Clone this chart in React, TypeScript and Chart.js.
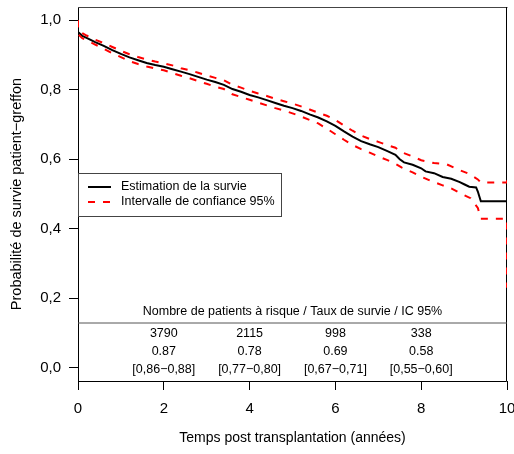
import React, { useEffect, useRef } from "react";
import { Chart, registerables } from "chart.js";

Chart.register(...registerables);

const FONT = '"Liberation Sans", Arial, Helvetica, sans-serif';

// Kaplan-Meier estimate (years, survival)
const survTimes = [0, 0, 0.1, 0.2, 0.4, 0.6, 0.8, 1.0, 1.2, 1.4, 1.6, 1.8, 2.0, 2.2, 2.4, 2.6, 2.8, 3.0, 3.2, 3.4, 3.6, 3.8, 4.0, 4.2, 4.4, 4.6, 4.8, 5.0, 5.2, 5.4, 5.6, 5.8, 6.0, 6.2, 6.4, 6.6, 6.8, 7.0, 7.2, 7.4, 7.5, 7.6, 7.8, 8.0, 8.1, 8.3, 8.5, 8.7, 8.9, 9.0, 9.12, 9.28, 9.32, 9.39, 10];
const survValues = [1.0, 0.966, 0.955, 0.949, 0.937, 0.926, 0.914, 0.903, 0.893, 0.885, 0.877, 0.871, 0.866, 0.859, 0.852, 0.845, 0.837, 0.829, 0.822, 0.814, 0.802, 0.794, 0.785, 0.778, 0.77, 0.762, 0.754, 0.747, 0.739, 0.729, 0.72, 0.709, 0.696, 0.68, 0.665, 0.652, 0.643, 0.635, 0.624, 0.613, 0.6, 0.591, 0.584, 0.574, 0.565, 0.56, 0.549, 0.544, 0.534, 0.528, 0.521, 0.519, 0.507, 0.479, 0.479];

// Upper 95% CI
const upperTimes = [0, 0, 0.1, 0.2, 0.4, 0.6, 0.8, 1.0, 1.2, 1.4, 1.6, 1.8, 2.0, 2.2, 2.4, 2.6, 2.8, 3.0, 3.2, 3.4, 3.6, 3.8, 4.0, 4.2, 4.4, 4.6, 4.8, 5.0, 5.2, 5.4, 5.6, 5.8, 6.0, 6.2, 6.4, 6.6, 6.8, 7.0, 7.2, 7.4, 7.55, 7.8, 8.0, 8.3, 8.6, 8.85, 9.12, 9.32, 9.39, 10, 10];
const upperValues = [1.0, 0.972, 0.963, 0.956, 0.944, 0.934, 0.923, 0.912, 0.902, 0.894, 0.887, 0.881, 0.876, 0.87, 0.862, 0.856, 0.849, 0.841, 0.834, 0.827, 0.814, 0.806, 0.797, 0.789, 0.782, 0.774, 0.767, 0.76, 0.752, 0.743, 0.734, 0.725, 0.713, 0.697, 0.682, 0.668, 0.658, 0.65, 0.641, 0.633, 0.62, 0.608, 0.597, 0.589, 0.585, 0.571, 0.558, 0.542, 0.533, 0.533, 0.561];

// Lower 95% CI
const lowerTimes = [0, 0, 0.1, 0.2, 0.4, 0.6, 0.8, 1.0, 1.2, 1.4, 1.6, 1.8, 2.0, 2.2, 2.4, 2.6, 2.8, 3.0, 3.2, 3.4, 3.6, 3.8, 4.0, 4.2, 4.4, 4.6, 4.8, 5.0, 5.2, 5.4, 5.6, 5.8, 6.0, 6.2, 6.4, 6.6, 6.8, 7.0, 7.2, 7.4, 7.55, 7.8, 8.0, 8.2, 8.5, 8.7, 8.9, 9.15, 9.32, 9.39, 10, 10];
const lowerValues = [1.0, 0.96, 0.948, 0.942, 0.93, 0.918, 0.905, 0.894, 0.882, 0.874, 0.867, 0.861, 0.856, 0.848, 0.84, 0.833, 0.825, 0.817, 0.809, 0.802, 0.787, 0.779, 0.771, 0.763, 0.755, 0.747, 0.74, 0.732, 0.723, 0.713, 0.703, 0.688, 0.672, 0.656, 0.641, 0.629, 0.619, 0.608, 0.598, 0.587, 0.576, 0.562, 0.55, 0.539, 0.525, 0.516, 0.503, 0.488, 0.46, 0.429, 0.429, 0.23];

// Axis ticks
const xTicks = [0, 2, 4, 6, 8, 10];
const yTicks = [0, 0.2, 0.4, 0.6, 0.8, 1.0];

// Risk table
const tableYears = [2, 4, 6, 8];
const atRisk = ["3790", "2115", "998", "338"];
const survRate = ["0.87", "0.78", "0.69", "0.58"];
const survCI = ["[0,86\u22120,88]", "[0,77\u22120,80]", "[0,67\u22120,71]", "[0,55\u22120,60]"];

const tableTitle = "Nombre de patients \u00e0 risque / Taux de survie / IC 95%";
const legendLabels = ["Estimation de la survie", "Intervalle de confiance 95%"];
const xTitle = "Temps post transplantation (ann\u00e9es)";
const yTitle = "Probabilit\u00e9 de survie patient\u2212greffon";

const toPoints = (xs: number[], ys: number[]) => xs.map((x, i) => ({ x, y: ys[i] }));

const framePlugin = {
  id: "frame",
  beforeDatasetsDraw(chart: any) {
    const { ctx, chartArea } = chart;
    const { left, right, top, bottom } = chartArea;
    ctx.save();
    ctx.lineWidth = 1;
    ctx.strokeStyle = "#000";
    ctx.beginPath();
    ctx.moveTo(left + 0.5, bottom + 0.5);
    ctx.lineTo(left + 0.5, top);
    ctx.stroke();
    ctx.strokeStyle = "#444";
    ctx.beginPath();
    ctx.moveTo(left, top + 0.5);
    ctx.lineTo(right + 0.5, top + 0.5);
    ctx.stroke();
    ctx.strokeStyle = "#000";
    ctx.beginPath();
    ctx.moveTo(right - 0.5, top);
    ctx.lineTo(right - 0.5, bottom + 0.5);
    ctx.lineTo(left, bottom + 0.5);
    ctx.stroke();
    ctx.restore();
  },
};

const overlayPlugin = {
  id: "overlay",
  afterDatasetsDraw(chart: any) {
    const { ctx, chartArea } = chart;
    const xs = chart.scales.x;
    const { left, right } = chartArea;
    ctx.save();

    // legend box
    const lx0 = left, ly0 = 173, lx1 = 281, ly1 = 216;
    ctx.fillStyle = "#fff";
    ctx.fillRect(lx0 + 1, ly0, lx1 - lx0 - 1, ly1 - ly0);
    ctx.strokeStyle = "#444";
    ctx.lineWidth = 1;
    ctx.strokeRect(lx0 + 0.5, ly0 + 0.5, lx1 - lx0, ly1 - ly0);
    ctx.lineWidth = 2;
    ctx.strokeStyle = "#000";
    ctx.setLineDash([]);
    ctx.beginPath();
    ctx.moveTo(88, 187);
    ctx.lineTo(111, 187);
    ctx.stroke();
    ctx.strokeStyle = "#ff0000";
    ctx.setLineDash([7, 8]);
    ctx.beginPath();
    ctx.moveTo(88, 202);
    ctx.lineTo(111, 202);
    ctx.stroke();
    ctx.setLineDash([]);
    ctx.fillStyle = "#000";
    ctx.font = `12.5px ${FONT}`;
    ctx.textAlign = "left";
    ctx.textBaseline = "middle";
    ctx.fillText(legendLabels[0], 121, 187);
    ctx.fillText(legendLabels[1], 121, 202);

    // risk table
    ctx.strokeStyle = "#555";
    ctx.lineWidth = 1;
    ctx.beginPath();
    ctx.moveTo(left, 323);
    ctx.lineTo(right, 323);
    ctx.stroke();
    ctx.textAlign = "center";
    ctx.fillText(tableTitle, (left + right) / 2, 312);
    tableYears.forEach((yr, i) => {
      const px = xs.getPixelForValue(yr);
      ctx.fillText(atRisk[i], px, 333.5);
      ctx.fillText(survRate[i], px, 351.5);
      ctx.fillText(survCI[i], px, 369.5);
    });
    ctx.restore();
  },
};

export default function App() {
  const ref = useRef<HTMLCanvasElement | null>(null);
  useEffect(() => {
    if (!ref.current) return;
    const chart = new Chart(ref.current, {
      type: "line",
      data: {
        datasets: [
          {
            label: "upper",
            data: toPoints(upperTimes, upperValues),
            borderColor: "#ff0000",
            borderWidth: 2,
            borderDash: [7, 8],
            pointRadius: 0,
            fill: false,
            order: 0,
          },
          {
            label: "lower",
            data: toPoints(lowerTimes, lowerValues),
            borderColor: "#ff0000",
            borderWidth: 2,
            borderDash: [7, 8],
            pointRadius: 0,
            fill: false,
            order: 0,
          },
          {
            label: legendLabels[0],
            data: toPoints(survTimes, survValues),
            borderColor: "#000000",
            borderWidth: 2,
            pointRadius: 0,
            fill: false,
            order: 1,
          },
        ],
      },
      options: {
        animation: false,
        responsive: false,
        maintainAspectRatio: false,
        layout: { padding: { top: 7, right: 7, left: 0, bottom: 0 } },
        plugins: {
          legend: { display: false },
          tooltip: { enabled: false },
        },
        scales: {
          x: {
            type: "linear",
            min: 0,
            max: 10,
            afterBuildTicks: (s: any) => {
              s.ticks = xTicks.map((v) => ({ value: v }));
            },
            ticks: {
              color: "#000",
              font: { family: FONT, size: 15 },
              padding: 10,
              maxRotation: 0,
              autoSkip: false,
              callback: (v: any) => String(v),
            },
            grid: { drawOnChartArea: false, drawTicks: true, tickLength: 9, color: "#000", lineWidth: 1 },
            border: { display: false },
            title: {
              display: true,
              text: xTitle,
              color: "#000",
              font: { family: FONT, size: 14 },
              padding: { top: 0, bottom: 7 },
            },
            afterFit: (s: any) => {
              s.height = 73;
              s.paddingLeft = 0;
              s.paddingRight = 0;
            },
          },
          y: {
            type: "linear",
            min: -0.038,
            max: 1.038,
            afterBuildTicks: (s: any) => {
              s.ticks = yTicks.map((v) => ({ value: v }));
            },
            ticks: {
              color: "#000",
              font: { family: FONT, size: 15 },
              padding: 8,
              autoSkip: false,
              callback: (v: any) => Number(v).toFixed(1).replace(".", ","),
            },
            grid: { drawOnChartArea: false, drawTicks: true, tickLength: 9, color: "#000", lineWidth: 1 },
            border: { display: false },
            title: {
              display: true,
              text: yTitle,
              color: "#000",
              font: { family: FONT, size: 14.5 },
              padding: { top: 8, bottom: 0 },
            },
            afterFit: (s: any) => {
              s.width = 78;
              s.paddingTop = 0;
              s.paddingBottom = 0;
            },
          },
        },
      },
      plugins: [framePlugin, overlayPlugin],
    } as any);
    return () => chart.destroy();
  }, []);

  return (
    <div style={{ position: "absolute", left: 0, top: 0, width: 514, height: 454, background: "#fff" }}>
      <canvas ref={ref} width={514} height={454} style={{ display: "block" }} />
    </div>
  );
}
